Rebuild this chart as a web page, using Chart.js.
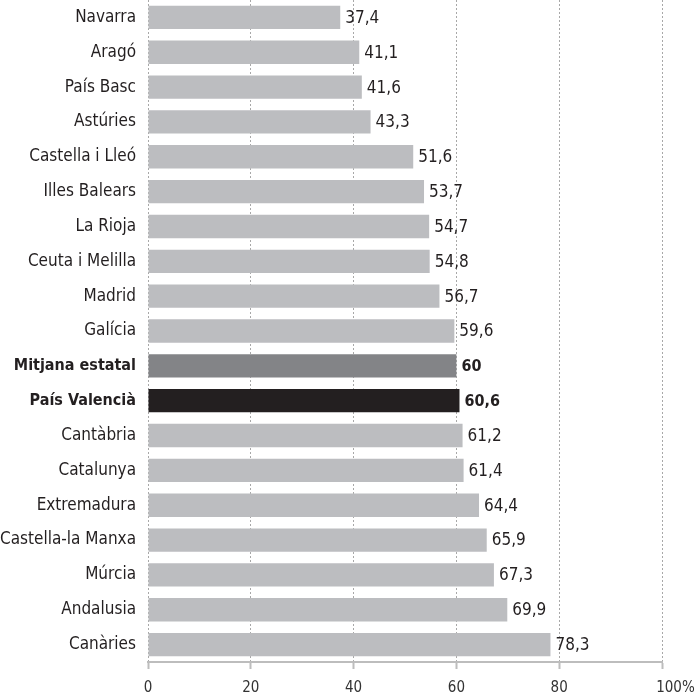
<!DOCTYPE html>
<html lang="ca">
<head>
<meta charset="UTF-8">
<title>Percentatge per comunitat</title>
<script src="https://cdn.jsdelivr.net/npm/chart.js"></script>
<style>
  html, body { margin: 0; padding: 0; background: #fff; }
  #wrap { width: 696px; height: 699px; }
</style>
</head>
<body>
<div id="wrap"><canvas id="chart"></canvas></div>
<script>
const categories = [
  "Navarra", "Aragó", "País Basc", "Astúries", "Castella i Lleó", "Illes Balears",
  "La Rioja", "Ceuta i Melilla", "Madrid", "Galícia", "Mitjana estatal", "País Valencià",
  "Cantàbria", "Catalunya", "Extremadura", "Castella-la Manxa", "Múrcia", "Andalusia", "Canàries"
];
const values = [37.4, 41.1, 41.6, 43.3, 51.6, 53.7, 54.7, 54.8, 56.7, 59.6, 60, 60.6,
  61.2, 61.4, 64.4, 65.9, 67.3, 69.9, 78.3];
const highlighted = ["Mitjana estatal", "País Valencià"];
const xTicks = [0, 20, 40, 60, 80, 100];

const FONT = "'Liberation Sans Narrow', 'DejaVu Sans Condensed', 'Roboto Condensed', 'Liberation Sans', sans-serif";

function barColor(name) {
  if (name === "Mitjana estatal") return "#838487";
  if (name === "País Valencià") return "#231f20";
  return "#bcbdc0";
}

// value text at the end of each bar
const valueLabels = {
  id: 'valueLabels',
  afterDatasetsDraw(chart) {
    const ctx = chart.ctx;
    const meta = chart.getDatasetMeta(0);
    ctx.save();
    ctx.fillStyle = '#231f20';
    ctx.textBaseline = 'middle';
    ctx.textAlign = 'left';
    meta.data.forEach((bar, i) => {
      const bold = highlighted.includes(categories[i]);
      ctx.font = (bold ? 'bold 16px ' : '17px ') + FONT;
      ctx.fillText(String(values[i]).replace('.', ','), bar.x + 5, bar.y + 1);
    });
    ctx.restore();
  }
};

new Chart(document.getElementById('chart'), {
  type: 'bar',
  data: {
    labels: categories,
    datasets: [{
      data: values,
      backgroundColor: categories.map(barColor),
      barPercentage: 1,
      categoryPercentage: 0.67
    }]
  },
  options: {
    indexAxis: 'y',
    responsive: true,
    maintainAspectRatio: false,
    animation: false,
    layout: { padding: { top: 0, right: 34, bottom: 0, left: 0 } },
    plugins: { legend: { display: false }, tooltip: { enabled: false } },
    scales: {
      x: {
        min: 0,
        max: 100,
        afterBuildTicks(scale) { scale.ticks = xTicks.map(v => ({ value: v })); },
        afterFit(scale) {
          scale.height = 37;
          scale.paddingLeft = 0;
          scale.paddingRight = 0;
        },
        grid: {
          color: '#a8a8a8',
          lineWidth: 1,
          drawTicks: true,
          tickLength: 7,
          tickColor: '#bdbdbd',
          tickWidth: 2
        },
        border: { display: true, color: '#bdbdbd', width: 2, dash: [2, 2] },
        ticks: {
          padding: 10,
          color: '#333',
          font: { family: FONT, size: 15 },
          maxRotation: 0,
          callback: v => v === 100 ? '\u2002\u2002\u2002\u2002100%' : v
        }
      },
      y: {
        afterFit(scale) {
          scale.width = 148;
          scale.paddingTop = 0;
          scale.paddingBottom = 0;
        },
        grid: { display: false, drawTicks: false },
        border: { display: false },
        ticks: {
          padding: 12,
          color: '#231f20',
          font: ctx => ({
            family: FONT,
            size: highlighted.includes(categories[ctx.index]) ? 16 : 17,
            weight: highlighted.includes(categories[ctx.index]) ? 'bold' : 'normal'
          })
        }
      }
    }
  },
  plugins: [valueLabels]
});
</script>
</body>
</html>
